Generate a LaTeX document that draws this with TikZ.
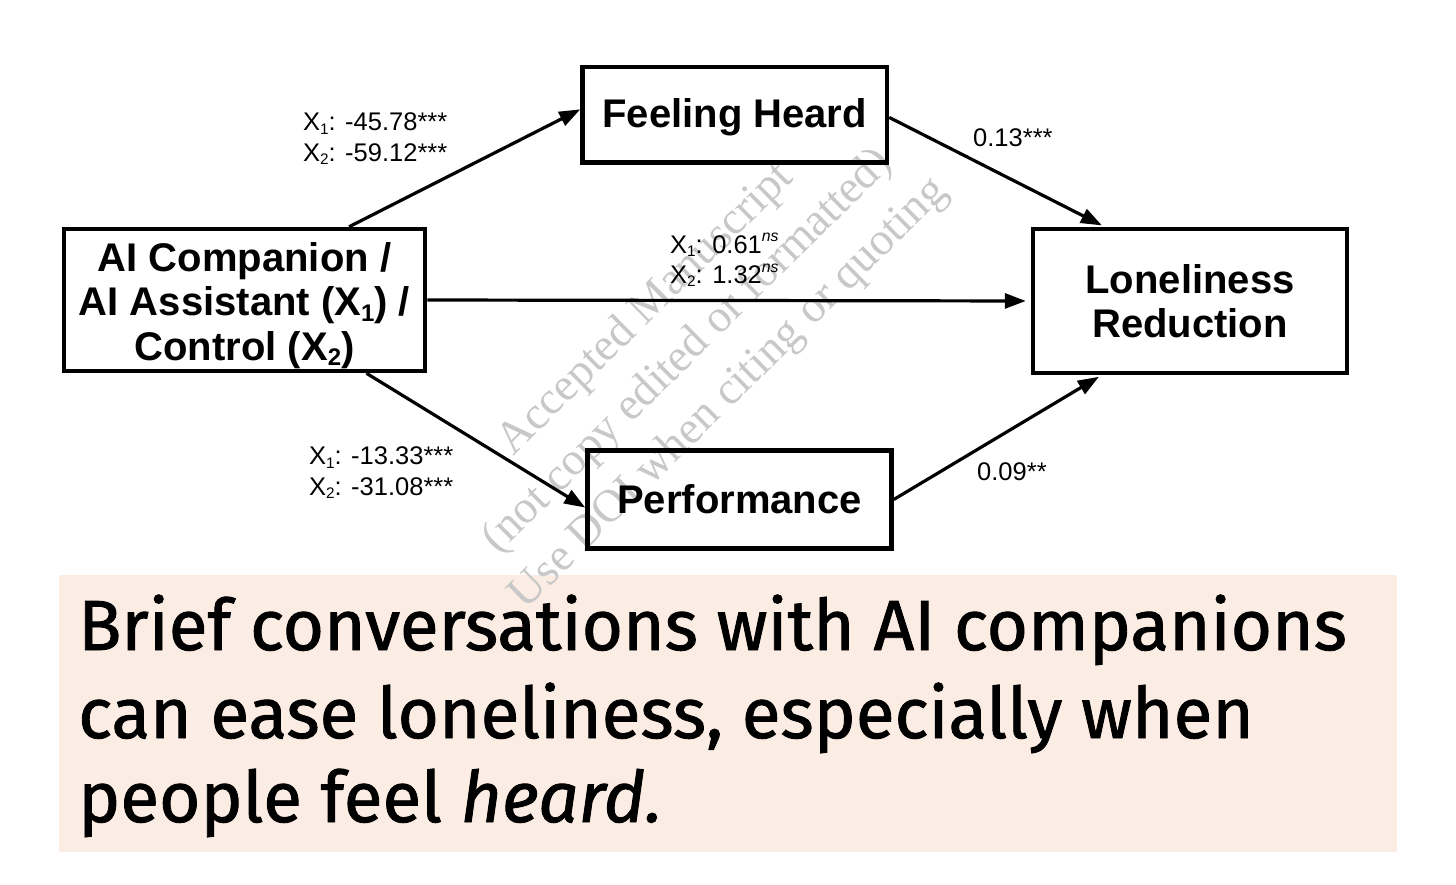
\documentclass[tikz,border=0pt]{standalone}
\usepackage{fontspec}
\usepackage{graphicx}
\setmainfont{Liberation Sans}
\newfontfamily\capfont[FakeBold=1.2]{Fira Sans}
\newfontfamily\wmfont{Liberation Serif}
\usetikzlibrary{arrows.meta}
\definecolor{capbg}{RGB}{252,237,228}
\definecolor{wmgray}{RGB}{200,200,200}
\newcommand\lowsub[1]{\raisebox{-0.13em}{\scalebox{0.6}{#1}}}
\newcommand\highsup[1]{\raisebox{0.45em}{\scalebox{0.62}{\itshape #1}}}
\tikzset{
  box/.style={draw=black, line width=4.5pt, inner sep=0pt, align=center,
    font={\fontsize{40}{44.5}\selectfont\bfseries}},
  conn/.style={draw=black, line width=3.2pt, -{Triangle[length=21pt,width=15pt]}},
  lbl/.style={inner sep=0pt, anchor=west, align=left, font={\fontsize{25.5}{30.5}\selectfont}},
  captxt/.style={inner sep=0pt, anchor=base west, font={\capfont\fontsize{71}{86}\selectfont}},
  wm/.style={inner sep=0pt, align=center, text=wmgray, rotate=44.6,
    font={\wmfont\fontsize{46}{59}\selectfont}}
}
\begin{document}
\begin{tikzpicture}[x=1pt,y=-1pt]
\useasboundingbox (0,0) rectangle (1456,885);
\fill[white] (0,0) rectangle (1456,885);
% caption background
\fill[capbg] (59,575) rectangle (1397,852);
% watermark
\node[wm] (wmark) at (688,352) {Accepted Manuscript\\(not copy edited or formatted)\\Use DOI when citing or quoting};
% boxes
\node[box, minimum width=361pt, minimum height=142pt] (L) at (244.5,300) {\rule{0pt}{40pt}AI Companion /\\AI Assistant (X\lowsub{1}) /\\Control (X\lowsub{2})};
\node[box, minimum width=304.5pt, minimum height=95.5pt] (F) at (734.75,114.75) {\rule{0pt}{33pt}Feeling Heard};
\node[box, minimum width=304pt, minimum height=98pt] (P) at (739.5,499.5) {Performance};
\node[box, minimum width=314pt, minimum height=144pt] (R) at (1190,301) {Loneliness\\Reduction};
% connectors
\draw[conn] (L.35) -- (F.178.3);
\draw[conn] (L.-31.5) -- (P.183.4);
\draw[conn, shorten >=5pt] (L.east) -- (R.west);
\draw[conn, shorten >=3pt] (F.-1) -- (R.139.4);
\draw[conn, shorten >=3pt] (P.east) -- (R.220.6);
% labels
\node[lbl] (la) at (303,139) {X\lowsub{1}: -45.78***\\X\lowsub{2}: -59.12***};
\node[lbl] (lb) at (670,260) {X\lowsub{1}: 0.61\highsup{ns}\\X\lowsub{2}: 1.32\highsup{ns}};
\node[lbl] (lc) at (309,473) {X\lowsub{1}: -13.33***\\X\lowsub{2}: -31.08***};
\node[lbl] (ld) at (973,138) {0.13***};
\node[lbl] (le) at (977,472) {0.09**};
% caption
\node[captxt] (c1) at (78,650) {Brief conversations with AI companions};
\node[captxt] (c2) at (78,738) {can ease loneliness, especially when};
\node[captxt] (c3) at (78,822) {people feel \textit{heard.}};
\end{tikzpicture}
\end{document}
